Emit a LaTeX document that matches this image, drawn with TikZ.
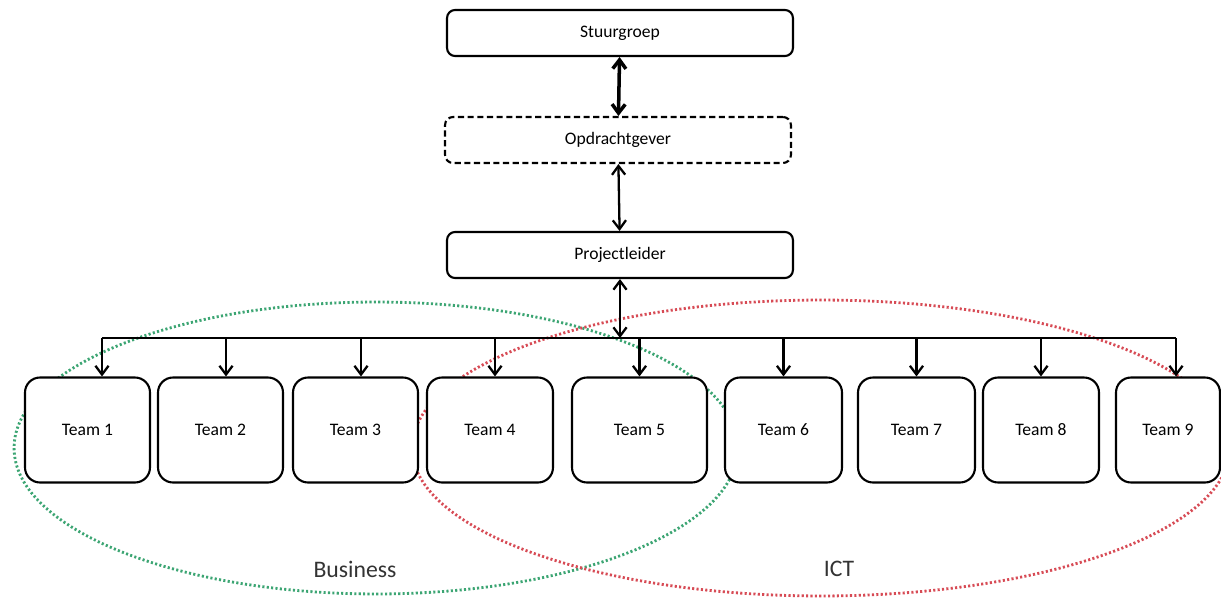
\documentclass[tikz,border=0pt]{standalone}
\usepackage{fontspec}
\setmainfont{Carlito}
\usetikzlibrary{arrows.meta}

\definecolor{bizgreen}{RGB}{60,165,115}
\definecolor{ictred}{RGB}{215,75,85}

\begin{document}
\begin{tikzpicture}[x=0.02cm,y=-0.02cm,
  topbox/.style={draw,line width=1.2pt,rounded corners=0.16cm,fill=white,
    minimum width=6.92cm,minimum height=0.92cm,inner sep=0pt,
    font=\fontsize{10}{12}\selectfont},
  teambox/.style={draw,line width=1.2pt,rounded corners=0.3cm,fill=white,
    minimum height=2.1cm,inner sep=0pt,font=\fontsize{10}{12}\selectfont},
  link/.style={line width=1.3pt,{Straight Barb[length=5pt,width=7.5pt]}-{Straight Barb[length=5pt,width=7.5pt]}},
  drop/.style={line width=1.3pt,-{Straight Barb[length=5pt,width=7.5pt]}},
  teamset/.style={line width=1.6pt,dash pattern=on 1.2pt off 1.3pt},
  grouplabel/.style={font=\fontsize{13.5}{16}\selectfont,text=black!80}]
  \useasboundingbox (0,0) rectangle (1221,598);

  % Business and ICT groups
  \draw[teamset,bizgreen] (376,448) ellipse [x radius=7.24cm,y radius=2.92cm];
  \draw[teamset,ictred] (821,448) ellipse [x radius=8.18cm,y radius=2.96cm];
  \node[grouplabel] (biz) at (355,569) {Business};
  \node[grouplabel] (ict) at (839,569) {ICT};

  % Top of the line
  \node[topbox] (stuur) at (620,33) {Stuurgroep};
  \node[topbox,dash pattern=on 3.5pt off 2pt] (opdr) at (618,140) {Opdrachtgever};
  \node[topbox] (pl) at (620,255) {Projectleider};
  \coordinate (bus) at (620,338);

  \draw[link,line width=2pt] (stuur) -- (opdr);
  \draw[link] (opdr) -- (pl);
  \draw[link] (pl) -- (bus);

  % Teams
  \foreach \i/\cx/\w/\dx in {1/87.5/2.5cm/0.29cm, 2/220.5/2.5cm/0.11cm,
      3/355.5/2.5cm/0.11cm, 4/490/2.52cm/0.1cm, 5/639.5/2.7cm/0cm,
      6/783.5/2.34cm/0cm, 7/916.5/2.34cm/0cm, 8/1041/2.32cm/0cm,
      9/1168/2.08cm/0.16cm} {
    \node[teambox,minimum width=\w] (t\i) at (\cx,430) {Team \i};
    \coordinate (a\i) at ([xshift=\dx]t\i.north);
    \draw[drop] (bus -| a\i) -- (a\i);
  }
  \draw[line width=1.3pt] (bus -| a1) -- (bus -| a9);

\end{tikzpicture}
\end{document}
